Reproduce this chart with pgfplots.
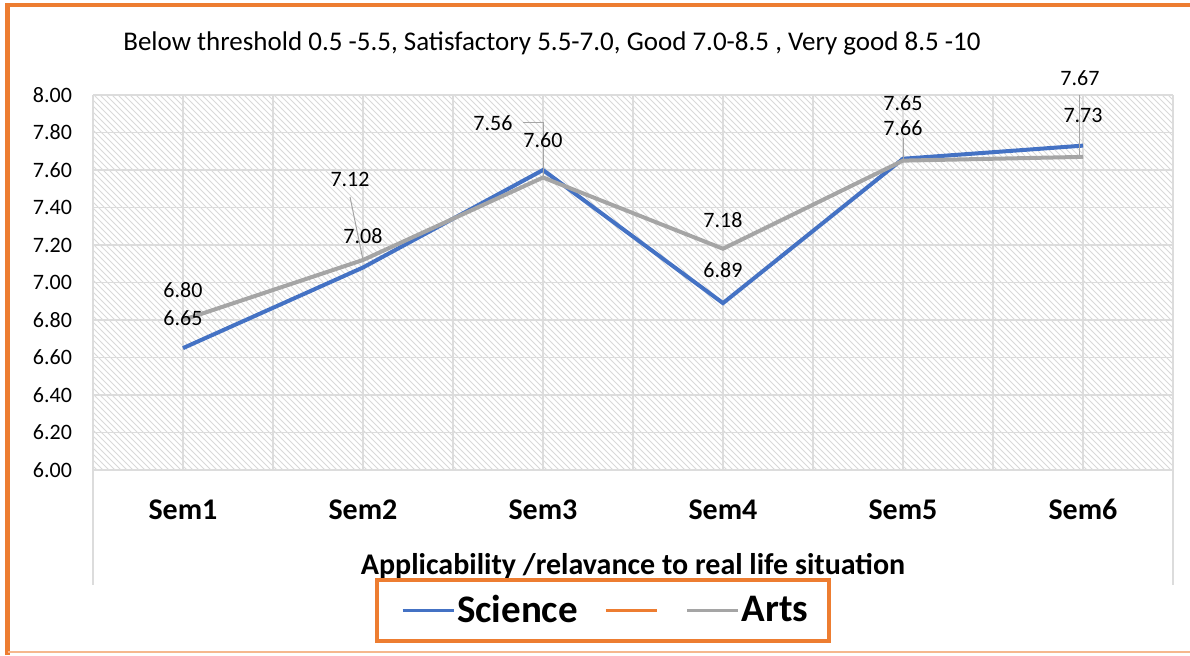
\documentclass[border=0pt]{standalone}
\usepackage{pgfplots}
\pgfplotsset{compat=1.18}
\usepackage{fontspec}
\setmainfont{Carlito}
\usetikzlibrary{patterns}
\definecolor{sciblue}{HTML}{4472C4}
\definecolor{artsgray}{HTML}{A5A5A5}
\definecolor{offorange}{HTML}{ED7D31}
\definecolor{gridc}{HTML}{DCDCDC}
\begin{document}
\begin{tikzpicture}
\path[use as bounding box] (0,0) rectangle (595pt,327.5pt);
\draw[offorange, line width=2.2pt] (3.75pt,0) -- (3.75pt,325pt) -- (595pt,325pt);
\draw[offorange!55, line width=0.8pt] (3.75pt,1.4pt) -- (595pt,1.4pt);
\node[font=\fontsize{13.5}{15}\selectfont] at (276pt,306pt) {Below threshold 0.5 -5.5, Satisfactory 5.5-7.0, Good 7.0-8.5 , Very good 8.5 -10};
\begin{axis}[
  at={(46.5pt,92.5pt)}, anchor=south west,
  scale only axis, width=540pt, height=187.5pt,
  xmin=-0.5, xmax=5.5, ymin=6, ymax=8,
  xtick={0,1,2,3,4,5}, xticklabels={Sem1,Sem2,Sem3,Sem4,Sem5,Sem6},
  minor xtick={-0.5,0.5,1.5,2.5,3.5,4.5,5.5},
  ytick={6,6.2,6.4,6.6,6.8,7,7.2,7.4,7.6,7.8,8},
  grid=both,
  major grid style={gridc, line width=0.7pt},
  minor grid style={gridc, line width=0.7pt},
  axis line style={draw=none},
  major tick length=0pt, minor tick length=0pt,
  axis background/.style={pattern=north west lines, pattern color=gray!30},
  clip=false,
  yticklabel style={font=\fontsize{11}{13}\selectfont, xshift=-7pt,
    /pgf/number format/.cd, fixed, fixed zerofill, precision=2, assume math mode=true},
  xticklabel style={font=\bfseries\fontsize{15}{17}\selectfont, yshift=-10.5pt,
    text height=10.5pt, text depth=0pt},
  xlabel={Applicability /relavance to real life situation},
  xlabel style={at={(axis description cs:0.5,0)}, anchor=center, yshift=-48pt,
    font=\bfseries\fontsize{15}{17}\selectfont},
  legend columns=3,
  legend style={at={(axis description cs:0.4718,-0.3747)}, anchor=center,
    draw=offorange, line width=2pt, fill=white,
    inner xsep=9pt, inner ysep=6.5pt,
    font=\bfseries\fontsize{19.5}{21}\selectfont,
    nodes={inner sep=1pt}},
  legend image code/.code={\path (-3pt,0pt); \draw[line width=1.5pt] (0pt,0pt) -- (25.5pt,0pt);},
]
\addplot[sciblue, line width=2pt] coordinates {(0,6.65)(1,7.08)(2,7.60)(3,6.89)(4,7.66)(5,7.73)};
\addlegendentry{Science\hspace*{9pt}\null}
\addlegendimage{offorange}
\addlegendentry{\hspace*{8.5pt}\null}
\addplot[artsgray, line width=2pt] coordinates {(0,6.80)(1,7.12)(2,7.56)(3,7.18)(4,7.65)(5,7.67)};
\addlegendentry{Arts}
% leader lines
\draw[artsgray, line width=0.5pt] (axis cs:0.928,7.456) -- (axis cs:1,7.12);
\draw[artsgray, line width=0.5pt] (axis cs:1.89,7.856) -- (axis cs:2,7.856) -- (axis cs:2,7.56);
\draw[artsgray, line width=0.5pt] (axis cs:4,7.77) -- (axis cs:4,7.65);
\draw[artsgray, line width=0.5pt] (axis cs:4.983,8.0) -- (axis cs:4.983,7.67) -- (axis cs:5,7.67);
% data labels
\begin{scope}[every node/.style={font=\fontsize{11}{13}\selectfont, inner sep=0pt}]
\node at (axis cs:0,6.96) {6.80};
\node at (axis cs:0,6.81) {6.65};
\node at (axis cs:0.928,7.547) {7.12};
\node at (axis cs:1,7.248) {7.08};
\node at (axis cs:1.722,7.851) {7.56};
\node at (axis cs:2,7.76) {7.60};
\node at (axis cs:3,7.333) {7.18};
\node at (axis cs:3,7.067) {6.89};
\node at (axis cs:4,7.957) {7.65};
\node at (axis cs:4,7.824) {7.66};
\node at (axis cs:4.983,8.09) {7.67};
\node at (axis cs:5,7.893) {7.73};
\end{scope}
% frame below plot
\draw[gridc, line width=0.8pt] (axis cs:-0.5,6) -- ++(0pt,-57.5pt);
\draw[gridc, line width=0.8pt] (axis cs:5.5,6) -- ++(0pt,-57.5pt);
\end{axis}
\end{tikzpicture}
\end{document}
